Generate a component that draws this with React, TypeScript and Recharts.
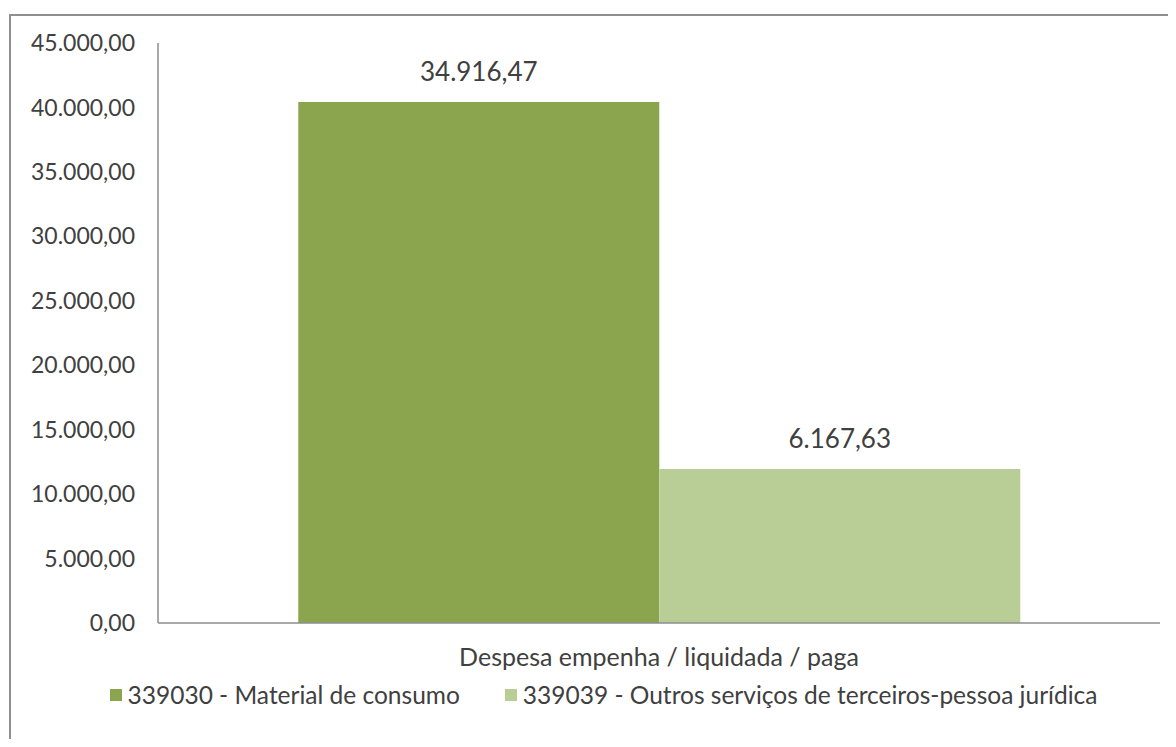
import { BarChart, Bar, XAxis, YAxis, Legend, LabelList } from "recharts";

const categories = ["Despesa empenha / liquidada / paga"];
const seriesNames = [
  "339030 - Material de consumo",
  "339039 - Outros serviços de terceiros-pessoa jurídica",
];
// bar heights as drawn in the picture
const materialHeights = [40420];
const outrosHeights = [11950];
// value labels as printed above the bars
const materialLabels = ["34.916,47"];
const outrosLabels = ["6.167,63"];
const yTicks = [0, 5000, 10000, 15000, 20000, 25000, 30000, 35000, 40000, 45000];

const colors = ["#8AA54E", "#B9CD96"];
const textColor = "#404040";
const font = "Lato, 'Open Sans', sans-serif";

const data = categories.map((name, i) => ({
  name,
  s1: materialHeights[i],
  s2: outrosHeights[i],
  l1: materialLabels[i],
  l2: outrosLabels[i],
}));

const brl = (v: number) => {
  const [int, dec] = v.toFixed(2).split(".");
  return int.replace(/\B(?=(\d{3})+(?!\d))/g, ".") + "," + dec;
};

const LegendContent = () => (
  <div
    style={{
      display: "flex",
      justifyContent: "center",
      alignItems: "center",
      gap: 45,
      fontFamily: font,
      fontSize: 24.5,
      color: textColor,
    }}
  >
    {seriesNames.map((n, i) => (
      <div key={n} style={{ display: "flex", alignItems: "center" }}>
        <span
          style={{
            width: 12,
            height: 12,
            background: colors[i],
            marginRight: 6,
            display: "inline-block",
          }}
        />
        <span>{n}</span>
      </div>
    ))}
  </div>
);

export default function App() {
  return (
    <div
      style={{
        position: "relative",
        width: 1176,
        height: 747,
        margin: -8,
        overflow: "hidden",
        background: "#fff",
      }}
    >
      <div
        style={{
          position: "absolute",
          left: 9,
          top: 14,
          width: 1200,
          height: 800,
          border: "2px solid #8f8f8f",
        }}
      />
      <div style={{ position: "absolute", left: 0, top: 0 }}>
        <BarChart
          width={1176}
          height={747}
          data={data}
          margin={{ top: 43, right: 16, left: 0, bottom: 0 }}
          barCategoryGap="14%"
          barGap={0}
        >
          <XAxis
            dataKey="name"
            height={124}
            axisLine={{ stroke: "#8c8c8c", strokeWidth: 1.5 }}
            tickLine={false}
            tickSize={0}
            tickMargin={25}
            tick={{ fill: textColor, fontSize: 25, fontFamily: font }}
          />
          <YAxis
            width={158}
            domain={[0, 45000]}
            ticks={yTicks}
            interval={0}
            tickFormatter={brl}
            axisLine={{ stroke: "#8c8c8c", strokeWidth: 1.5 }}
            tickLine={false}
            tickSize={0}
            tickMargin={23}
            tick={{ fill: textColor, fontSize: 23, fontFamily: font }}
          />
          <Legend
            layout="horizontal"
            verticalAlign="middle"
            align="center"
            content={<LegendContent />}
            wrapperStyle={{ top: 680, left: 10, width: 1187 }}
          />
          <Bar dataKey="s1" name={seriesNames[0]} fill={colors[0]} isAnimationActive={false}>
            <LabelList
              dataKey="l1"
              position="top"
              offset={21}
              fill={textColor}
              fontSize={26}
              fontFamily={font}
            />
          </Bar>
          <Bar dataKey="s2" name={seriesNames[1]} fill={colors[1]} isAnimationActive={false}>
            <LabelList
              dataKey="l2"
              position="top"
              offset={21}
              fill={textColor}
              fontSize={26}
              fontFamily={font}
            />
          </Bar>
        </BarChart>
      </div>
    </div>
  );
}
